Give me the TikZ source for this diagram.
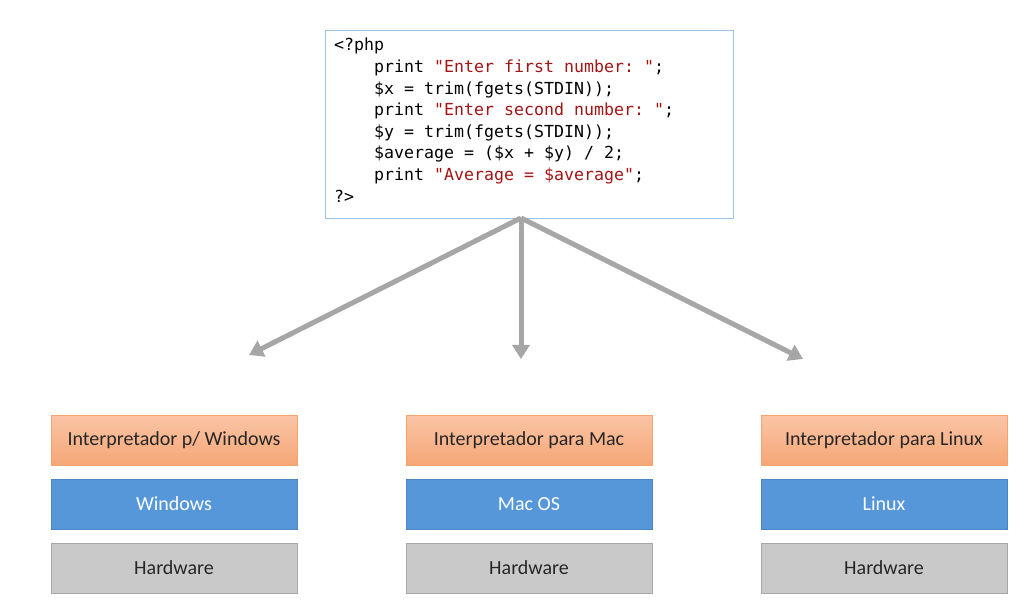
\documentclass[tikz,border=0pt]{standalone}
\usepackage{fontspec}
\setmainfont{Carlito}
\newfontfamily\codefont{DejaVu Sans Mono}
\usetikzlibrary{arrows.meta}
\definecolor{codered}{HTML}{A31515}
\definecolor{codeborder}{HTML}{9DC3E6}
\definecolor{arrowgray}{HTML}{A6A6A6}
\definecolor{orangetop}{HTML}{FAC5A6}
\definecolor{orangebot}{HTML}{F6A676}
\definecolor{orangeedge}{HTML}{F4A46E}
\definecolor{bluefill}{HTML}{5597D9}
\definecolor{blueedge}{HTML}{4A84C4}
\definecolor{grayfill}{HTML}{C9C9C9}
\definecolor{grayedge}{HTML}{A8A8A8}
\definecolor{labeltext}{HTML}{262626}
\tikzset{
  layer/.style={minimum width=246pt, minimum height=50pt, inner sep=0pt, font=\fontsize{20}{22}\selectfont, line width=0.8pt},
  interp/.style={layer, draw=orangeedge, top color=orangetop, bottom color=orangebot, text=labeltext},
  osbox/.style={layer, draw=blueedge, fill=bluefill, text=white},
  hwbox/.style={layer, draw=grayedge, fill=grayfill, text=labeltext},
  flow/.style={draw=arrowgray, line width=5pt, -{Triangle[width=17pt,length=14pt]}}
}
\newcommand{\str}[1]{\textcolor{codered}{#1}}
\begin{document}
\begin{tikzpicture}[x=1pt,y=-1pt]
\useasboundingbox (0,0) rectangle (1036,601);
\fill[white] (0,0) rectangle (1036,601);
\node[draw=codeborder, line width=0.8pt, minimum width=408pt, minimum height=188pt, inner sep=0pt] (code) at (529,124) {};
\node[anchor=north west, inner sep=0pt, align=left, font=\codefont\frenchspacing\fontsize{16.6}{21.6}\selectfont] (src) at (334,38)
{<?php\\
\hspace*{40pt}print \str{"Enter first number: "};\\
\hspace*{40pt}\$x = trim(fgets(STDIN));\\
\hspace*{40pt}print \str{"Enter second number: "};\\
\hspace*{40pt}\$y = trim(fgets(STDIN));\\
\hspace*{40pt}\$average = (\$x + \$y) / 2;\\
\hspace*{40pt}print \str{"Average = \$average"};\\
?>};
\coordinate (fork) at (521,218);
\coordinate (tipL) at (249,355);
\coordinate (tipM) at (521,359);
\coordinate (tipR) at (803,359);
\draw[flow] (fork) -- (tipL);
\draw[flow] (fork) -- (tipM);
\draw[flow] (fork) -- (tipR);
\node[interp] (iw) at (174,440) {Interpretador p/ Windows};
\node[osbox] (win) at (174,504) {Windows};
\node[hwbox] (hw1) at (174,568) {Hardware};
\node[interp] (im) at (529,440) {Interpretador para Mac};
\node[osbox] (mac) at (529,504) {Mac OS};
\node[hwbox] (hw2) at (529,568) {Hardware};
\node[interp] (il) at (884,440) {Interpretador para Linux};
\node[osbox] (lin) at (884,504) {Linux};
\node[hwbox] (hw3) at (884,568) {Hardware};
\end{tikzpicture}
\end{document}
